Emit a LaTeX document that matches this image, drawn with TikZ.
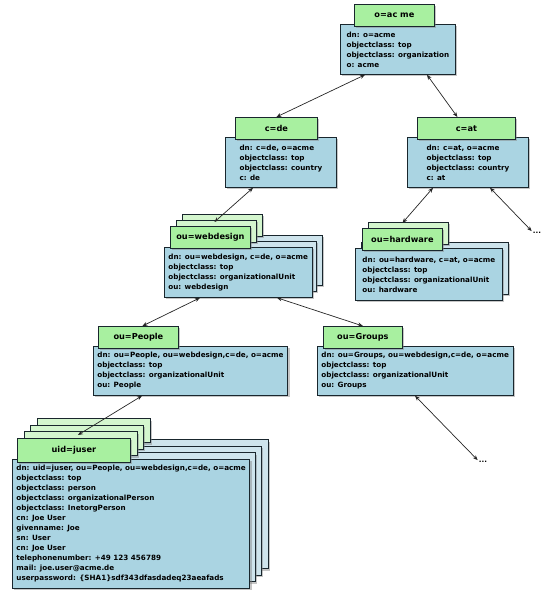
\documentclass[tikz,border=0pt]{standalone}
\usepackage{fontspec}
\setmainfont{DejaVu Sans}
\usepackage{tikz}
\usetikzlibrary{shadows,arrows.meta}
\usepackage{xcolor}

\definecolor{tabgreen}{RGB}{168,240,160}
\definecolor{tabgreenback}{RGB}{212,246,206}
\definecolor{entryblue}{RGB}{170,212,226}
\definecolor{entryblueback}{RGB}{206,228,236}
\definecolor{edgedark}{RGB}{25,38,45}

\begin{document}
\begin{tikzpicture}[
    x=1pt, y=1pt,
    font=\fontsize{7.2}{10}\selectfont\bfseries,
    entry/.style={rectangle, draw=edgedark, line width=0.8pt, fill=entryblue, anchor=north west, align=left, inner xsep=4pt, inner ysep=3pt,
        drop shadow={shadow xshift=2pt, shadow yshift=-2pt, opacity=0.45}},
    entryback/.style={entry, fill=entryblueback},
    rdn/.style={rectangle, draw=edgedark, line width=0.8pt, fill=tabgreen, anchor=north west, minimum height=22pt, align=center,
        font=\fontsize{8.2}{10}\selectfont\bfseries,
        drop shadow={shadow xshift=2pt, shadow yshift=-2pt, opacity=0.45}},
    rdnback/.style={rdn, fill=tabgreenback},
    link/.style={{Stealth[length=5pt,width=4pt]}-{Stealth[length=5pt,width=4pt]}, line width=0.7pt, black!85}
]
\useasboundingbox (0,0) rectangle (550,596);

% Root entry
\node[entry, minimum width=115, minimum height=50] (acme) at (340,572) {dn: o=acme\\objectclass: top\\objectclass: organization\\o: acme};
\node[rdn, minimum width=80] (acmetab) at (354,592) {o=ac me};

% Country entries
\node[entry, minimum width=111, minimum height=50] (cde) at (225,459) {dn: c=de, o=acme\\objectclass: top\\objectclass: country\\c: de};
\node[rdn, minimum width=82] (cdetab) at (235,479) {c=de};

\node[entry, minimum width=121, minimum height=50] (cat) at (407,459) {dn: c=at, o=acme\\objectclass: top\\objectclass: country\\c: at};
\node[rdn, minimum width=98] (cattab) at (417,479) {c=at};

% Organizational units (stacked)
\foreach \k in {2,1} {
  \node[entryback, minimum width=146, minimum height=50] at ({164+6*\k},{349+6*\k}) {};
  \node[rdnback, minimum width=80] at ({170+6*\k},{370+6*\k}) {};
}
\node[entry, minimum width=146, minimum height=50] (webdesign) at (164,349) {dn: ou=webdesign, c=de, o=acme\\objectclass: top\\objectclass: organizationalUnit\\ou: webdesign};
\node[rdn, minimum width=80] (webdesigntab) at (170,370) {ou=webdesign};

\node[entryback, minimum width=147, minimum height=52] at (361,354) {};
\node[rdnback, minimum width=80] at (368,374) {};
\node[entry, minimum width=147, minimum height=52] (hardware) at (355,348) {dn: ou=hardware, c=at, o=acme\\objectclass: top\\objectclass: organizationalUnit\\ou: hardware};
\node[rdn, minimum width=80] (hardwaretab) at (362,368) {ou=hardware};

\node[entry, minimum width=194, minimum height=49] (people) at (93,250) {dn: ou=People, ou=webdesign,c=de, o=acme\\objectclass: top\\objectclass: organizationalUnit\\ou: People};
\node[rdn, minimum width=80] (peopletab) at (98,270) {ou=People};

\node[entry, minimum width=195, minimum height=49] (groups) at (317,250) {dn: ou=Groups, ou=webdesign,c=de, o=acme\\objectclass: top\\objectclass: organizationalUnit\\ou: Groups};
\node[rdn, minimum width=79] (groupstab) at (323,270) {ou=Groups};

% User entries (stacked)
\foreach \k in {3,2,1} {
  \node[entryback, minimum width=236, minimum height=129] at ({12+6.5*\k},{137+6.5*\k}) {};
  \node[rdnback, minimum width=113, minimum height=24] at ({17+6.5*\k},{158+6.5*\k}) {};
}
\node[entry, minimum width=236, minimum height=129] (juser) at (12,137) {dn: uid=juser, ou=People, ou=webdesign,c=de, o=acme\\objectclass: top\\objectclass: person\\objectclass: organizationalPerson\\objectclass: InetorgPerson\\cn: Joe User\\givenname: Joe\\sn: User\\cn: Joe User\\telephonenumber: +49 123 456789\\mail: joe.user@acme.de\\userpassword: \{SHA1\}sdf343dfasdadeq23aeafads};
\node[rdn, minimum width=113, minimum height=24] (jusertab) at (17,158) {uid=juser};

% Continuations
\node[inner sep=1pt] (dotsat) at (537,363) {...};
\node[inner sep=1pt] (dotsgroups) at (483,134) {...};

% Tree links
\draw[link] ([xshift=25]acme.south west) -- (cdetab.north);
\draw[link] ([xshift=87]acme.south west) -- ([xshift=-9]cattab.north);
\draw[link] ([xshift=28]cde.south west) -- ([xshift=4,yshift=4]webdesigntab.north);
\draw[link] ([xshift=26]cat.south west) -- ([yshift=5]hardwaretab.north);
\draw[link] ([xshift=83]cat.south west) -- (dotsat.north west);
\draw[link] ([xshift=36]webdesign.south west) -- ([xshift=4]peopletab.north);
\draw[link] ([xshift=113]webdesign.south west) -- (groupstab.north);
\draw[link] ([xshift=49]people.south west) -- ([xshift=4,yshift=3]jusertab.north);
\draw[link] ([xshift=98]groups.south west) -- (dotsgroups.north west);

\end{tikzpicture}
\end{document}
